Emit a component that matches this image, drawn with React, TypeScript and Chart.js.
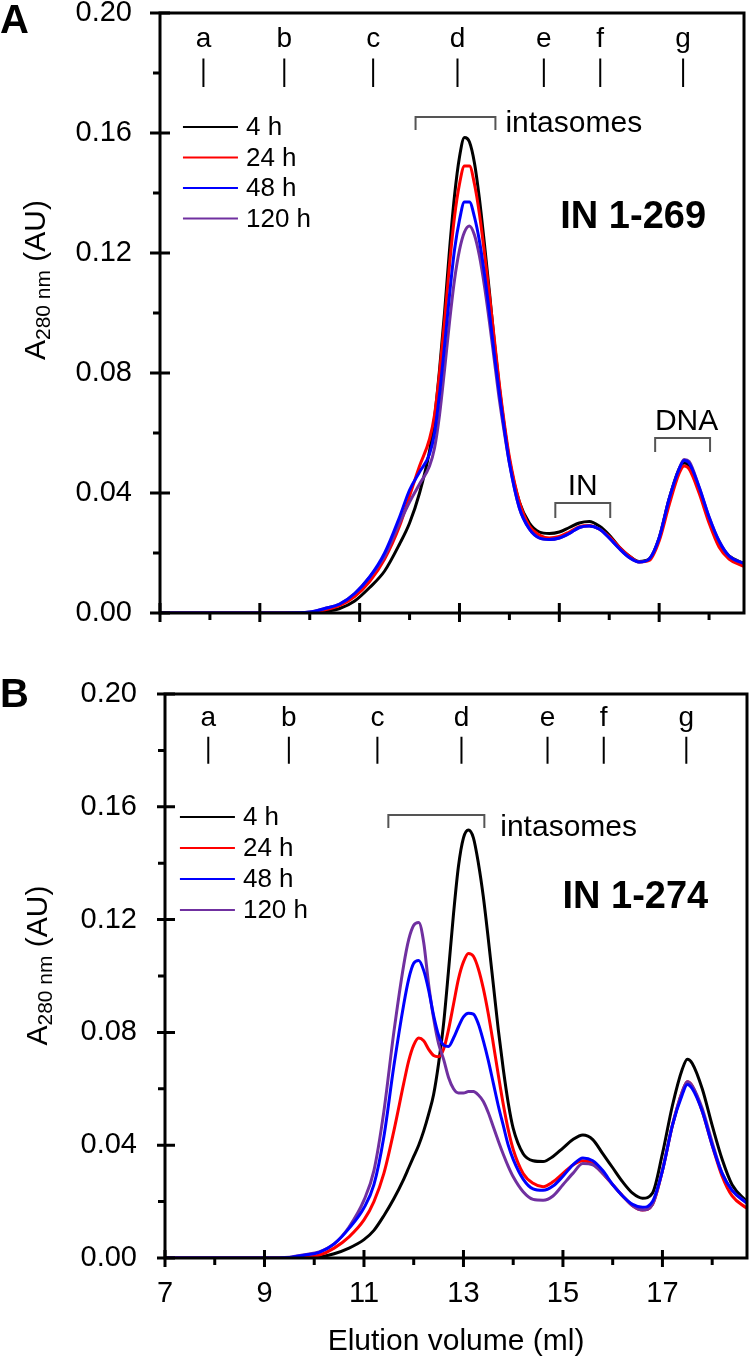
import React, { useEffect, useRef } from 'react';
import { Chart, registerables } from 'chart.js';

Chart.register(...registerables);

const FONT = '"Liberation Sans", Arial, Helvetica, sans-serif';

// ---------------- data ----------------
const SERIES_LABELS = ['4 h', '24 h', '48 h', '120 h'];
const SERIES_COLORS = ['#000000', '#ff0000', '#0000ff', '#7030a0'];
const SERIES_ORDER = [4, 3, 1, 2];

const Y_TICKS = [0, 0.04, 0.08, 0.12, 0.16, 0.2];
const Y_MINOR = [0.02, 0.06, 0.1, 0.14, 0.18];
const X_TICKS = [7, 9, 11, 13, 15, 17];
const X_MINOR = [8, 10, 12, 14, 16, 18];
const X_TITLE = 'Elution volume (ml)';
const Y_TITLE_PARTS = ['A', '280 nm', ' (AU)'];

const MARKER_LABELS = ['a', 'b', 'c', 'd', 'e', 'f', 'g'];
const MARKER_POS = [7.87, 9.49, 11.27, 12.96, 14.69, 15.82, 17.48];

// Panel A (IN 1-269)
const XA = [7, 8, 9, 9.5, 10, 10.3, 10.6, 10.9, 11.2, 11.5, 11.8, 12.0, 12.2, 12.4,
  12.5, 12.6, 12.7, 12.8, 12.9, 13.0, 13.1, 13.2, 13.3, 13.4, 13.5, 13.6, 13.7, 13.8, 13.9,
  14.0, 14.2, 14.4, 14.6, 14.8, 15.0, 15.2, 15.4, 15.6, 15.8, 16.0, 16.2, 16.4, 16.6, 16.8, 17.0, 17.2, 17.4,
  17.5, 17.6, 17.8, 18.0, 18.2, 18.4, 18.7];
const A_4H = [0, 0, 0, 0, 0, 0.0005, 0.0015, 0.004, 0.0085, 0.014, 0.023, 0.030, 0.040, 0.054,
  0.065, 0.081, 0.100, 0.121, 0.139, 0.152, 0.1585, 0.157, 0.150, 0.138, 0.123, 0.107, 0.090, 0.075, 0.062,
  0.051, 0.037, 0.030, 0.027, 0.0265, 0.027, 0.0285, 0.030, 0.0305, 0.029, 0.026, 0.022, 0.019, 0.0172, 0.018, 0.025, 0.038, 0.048,
  0.050, 0.049, 0.041, 0.031, 0.023, 0.019, 0.0165];
const A_24H = [0, 0, 0, 0, 0, 0.001, 0.0025, 0.0055, 0.0105, 0.018, 0.029, 0.039, 0.049, 0.058,
  0.066, 0.080, 0.097, 0.116, 0.132, 0.143, 0.149, 0.149, 0.143, 0.133, 0.120, 0.106, 0.091, 0.076, 0.063,
  0.052, 0.037, 0.029, 0.026, 0.025, 0.0255, 0.027, 0.0288, 0.0292, 0.028, 0.0255, 0.022, 0.019, 0.017, 0.0175, 0.024, 0.036, 0.0465,
  0.049, 0.048, 0.040, 0.030, 0.022, 0.018, 0.0155];
const A_48H = [0, 0, 0, 0, 0.0003, 0.0015, 0.003, 0.0065, 0.012, 0.020, 0.032, 0.041, 0.047, 0.053,
  0.060, 0.073, 0.089, 0.106, 0.121, 0.131, 0.137, 0.137, 0.132, 0.124, 0.113, 0.100, 0.086, 0.073, 0.061,
  0.050, 0.035, 0.028, 0.025, 0.0245, 0.025, 0.0265, 0.0285, 0.029, 0.028, 0.025, 0.0215, 0.0185, 0.017, 0.018, 0.025, 0.038, 0.048,
  0.0508, 0.050, 0.042, 0.032, 0.024, 0.019, 0.0165];
const A_120H = [0, 0, 0, 0, 0.0003, 0.0015, 0.003, 0.0065, 0.012, 0.019, 0.030, 0.037, 0.043, 0.049,
  0.055, 0.066, 0.081, 0.097, 0.111, 0.121, 0.127, 0.129, 0.126, 0.119, 0.109, 0.097, 0.084, 0.071, 0.060,
  0.050, 0.035, 0.028, 0.025, 0.0245, 0.025, 0.0265, 0.0285, 0.029, 0.028, 0.025, 0.0215, 0.0185, 0.017, 0.018, 0.025, 0.038, 0.048,
  0.0512, 0.0505, 0.042, 0.032, 0.024, 0.019, 0.0165];

// Panel B (IN 1-274)
const XB = [7, 8, 9, 9.5, 9.8, 10.1, 10.4, 10.7, 11.0, 11.2, 11.4, 11.6, 11.8,
  11.9, 12.0, 12.1, 12.2, 12.3, 12.4, 12.5, 12.6, 12.7, 12.8, 12.9, 13.0, 13.1, 13.2, 13.3, 13.4, 13.5, 13.6, 13.7, 13.8, 13.9,
  14.0, 14.2, 14.4, 14.6, 14.8, 15.0, 15.2, 15.4, 15.6, 15.8, 16.0, 16.2, 16.4, 16.6, 16.8, 17.0, 17.2, 17.4,
  17.5, 17.6, 17.8, 18.0, 18.2, 18.4, 18.7];
const B_4H = [0, 0, 0, 0, 0, 0.0003, 0.0015, 0.0035, 0.0065, 0.0098, 0.015, 0.021, 0.028,
  0.032, 0.036, 0.040, 0.045, 0.051, 0.058, 0.069, 0.083, 0.102, 0.122, 0.139, 0.149, 0.1518, 0.149, 0.140, 0.128, 0.113, 0.097, 0.081, 0.067, 0.055,
  0.046, 0.037, 0.0345, 0.0342, 0.036, 0.039, 0.042, 0.0436, 0.042, 0.037, 0.032, 0.027, 0.023, 0.0212, 0.023, 0.037, 0.054, 0.067,
  0.0705, 0.069, 0.060, 0.047, 0.035, 0.026, 0.020];
const B_24H = [0, 0, 0, 0, 0.0002, 0.001, 0.0035, 0.0075, 0.0135, 0.020, 0.030, 0.045, 0.062,
  0.070, 0.0755, 0.078, 0.077, 0.074, 0.0718, 0.0714, 0.074, 0.081, 0.090, 0.099, 0.105, 0.108, 0.107, 0.1025, 0.0955, 0.0865, 0.076, 0.065, 0.0545, 0.0455,
  0.0385, 0.030, 0.0265, 0.0253, 0.027, 0.030, 0.033, 0.0345, 0.0335, 0.030, 0.026, 0.022, 0.0185, 0.017, 0.019, 0.031, 0.047, 0.059,
  0.0625, 0.061, 0.052, 0.040, 0.029, 0.022, 0.0176];
const B_48H = [0, 0, 0, 0.0002, 0.001, 0.002, 0.005, 0.0105, 0.0178, 0.026, 0.043, 0.068, 0.090,
  0.099, 0.1045, 0.1055, 0.102, 0.095, 0.086, 0.079, 0.0755, 0.075, 0.078, 0.082, 0.0855, 0.0868, 0.0865, 0.083, 0.077, 0.070, 0.062, 0.054, 0.047, 0.040,
  0.035, 0.028, 0.0245, 0.024, 0.0255, 0.029, 0.033, 0.0355, 0.0345, 0.031, 0.026, 0.022, 0.019, 0.018, 0.020, 0.031, 0.047, 0.058,
  0.0615, 0.060, 0.052, 0.040, 0.030, 0.024, 0.0194];
const B_120H = [0, 0, 0, 0.0003, 0.0012, 0.0022, 0.005, 0.011, 0.0205, 0.031, 0.052, 0.080, 0.104,
  0.113, 0.118, 0.119, 0.112, 0.097, 0.085, 0.076, 0.0705, 0.064, 0.060, 0.0585, 0.0585, 0.059, 0.059, 0.0578, 0.0555, 0.0515, 0.0465, 0.0415, 0.0368, 0.0325,
  0.0288, 0.0235, 0.0208, 0.0205, 0.022, 0.026, 0.030, 0.0335, 0.033, 0.030, 0.026, 0.022, 0.0185, 0.017, 0.019, 0.031, 0.047, 0.059,
  0.0625, 0.061, 0.053, 0.041, 0.030, 0.024, 0.0195];

// ---------------- layout / annotation specs ----------------
type Bracket = [number, number, number, number];
type Label = { text: string; x: number; y: number; align: CanvasTextAlign };
type PanelSpec = {
  key: string; top: number; height: number; padTop: number; padRight: number;
  yAxisWidth: number; xAxisHeight: number; showXLabels: boolean; xTickPad: number;
  x: number[]; series: number[][];
  yTickOut: number; yTickIn: number; yMinorOut: number; xTickIn: number; xTickOut: number; xMinorOut: number;
  yTitle: { x: number; y: number }; letter: { text: string; x: number; y: number };
  name: { text: string; x: number; y: number };
  legend: { x: number; y: number; dy: number };
  brackets: Bracket[]; labels: Label[];
};

const PANELS: PanelSpec[] = [
  {
    key: 'A', top: 0, height: 650, padTop: 13, padRight: 6, yAxisWidth: 160, xAxisHeight: 37,
    showXLabels: false, xTickPad: 19, x: XA, series: [A_4H, A_24H, A_48H, A_120H],
    yTickOut: 10, yTickIn: 10, yMinorOut: 7, xTickIn: 10, xTickOut: 9, xMinorOut: 7,
    yTitle: { x: 45, y: 280 }, letter: { text: 'A', x: 0, y: 33 },
    name: { text: 'IN 1-269', x: 15.02, y: 0.1282 },
    legend: { x: 7.46, y: 0.162, dy: 30.5 },
    brackets: [[12.12, 13.72, 0.1653, 0.161], [14.92, 16.02, 0.0367, 0.0317], [16.92, 18.02, 0.0583, 0.0537]],
    labels: [
      { text: 'intasomes', x: 13.92, y: 0.1604, align: 'left' },
      { text: 'IN', x: 15.47, y: 0.0393, align: 'center' },
      { text: 'DNA', x: 17.55, y: 0.061, align: 'center' },
    ],
  },
  {
    key: 'B', top: 660, height: 699, padTop: 34, padRight: 3, yAxisWidth: 165, xAxisHeight: 101,
    showXLabels: true, xTickPad: 19, x: XB, series: [B_4H, B_24H, B_48H, B_120H],
    yTickOut: 8, yTickIn: 10, yMinorOut: 7, xTickIn: 8, xTickOut: 9, xMinorOut: 7,
    yTitle: { x: 47, y: 305.5 }, letter: { text: 'B', x: 0, y: 46.7 },
    name: { text: 'IN 1-274', x: 14.99, y: 0.124 },
    legend: { x: 7.30, y: 0.1564, dy: 31 },
    brackets: [[11.49, 13.42, 0.1571, 0.1525]],
    labels: [{ text: 'intasomes', x: 13.74, y: 0.1498, align: 'left' }],
  },
];

const MARKER_TEXT_Y = 0.1888;
const MARKER_TICK_TOP = 0.1848;
const MARKER_TICK_BOTTOM = 0.1753;

function makeDecor(spec: PanelSpec) {
  return {
    id: 'decor' + spec.key,
    afterDatasetsDraw(chart: any) {
      const { ctx, chartArea: ca, scales } = chart;
      const X = (v: number) => scales.x.getPixelForValue(v);
      const Y = (v: number) => scales.y.getPixelForValue(v);
      ctx.save();
      ctx.fillStyle = '#000';
      ctx.strokeStyle = '#000';

      // frame
      ctx.lineWidth = 3;
      ctx.lineJoin = 'miter';
      ctx.strokeRect(ca.left, ca.top, ca.right - ca.left, ca.bottom - ca.top);

      // tick marks
      ctx.beginPath();
      Y_TICKS.forEach((v) => { const y = Y(v); ctx.moveTo(ca.left - spec.yTickOut, y); ctx.lineTo(ca.left + spec.yTickIn, y); });
      Y_MINOR.forEach((v) => { const y = Y(v); ctx.moveTo(ca.left - spec.yMinorOut, y); ctx.lineTo(ca.left, y); });
      X_TICKS.forEach((v) => { const x = X(v); ctx.moveTo(x, ca.bottom - spec.xTickIn); ctx.lineTo(x, ca.bottom + spec.xTickOut); });
      X_MINOR.forEach((v) => { const x = X(v); ctx.moveTo(x, ca.bottom); ctx.lineTo(x, ca.bottom + spec.xMinorOut); });
      ctx.stroke();

      // marker letters a..g
      ctx.font = `28px ${FONT}`;
      ctx.textAlign = 'center';
      ctx.textBaseline = 'alphabetic';
      ctx.lineWidth = 2;
      ctx.beginPath();
      MARKER_POS.forEach((v, i) => {
        const x = X(v);
        ctx.fillText(MARKER_LABELS[i], x, Y(MARKER_TEXT_Y));
        ctx.moveTo(x, Y(MARKER_TICK_TOP));
        ctx.lineTo(x, Y(MARKER_TICK_BOTTOM));
      });
      ctx.stroke();

      // brackets
      ctx.strokeStyle = '#555';
      ctx.lineWidth = 2;
      ctx.beginPath();
      spec.brackets.forEach(([x1, x2, yl, yb]) => {
        ctx.moveTo(X(x1), Y(yb));
        ctx.lineTo(X(x1), Y(yl));
        ctx.lineTo(X(x2), Y(yl));
        ctx.lineTo(X(x2), Y(yb));
      });
      ctx.stroke();

      // labels
      ctx.font = `30px ${FONT}`;
      spec.labels.forEach((l) => {
        ctx.textAlign = l.align;
        ctx.fillText(l.text, X(l.x), Y(l.y));
      });

      // construct name
      ctx.font = `bold 38px ${FONT}`;
      ctx.textAlign = 'left';
      ctx.fillText(spec.name.text, X(spec.name.x), Y(spec.name.y));

      // legend
      const lx = X(spec.legend.x);
      const ly = Y(spec.legend.y);
      ctx.font = `26px ${FONT}`;
      ctx.textBaseline = 'middle';
      chart.data.datasets.forEach((ds: any, i: number) => {
        const y = ly + i * spec.legend.dy;
        ctx.strokeStyle = ds.borderColor;
        ctx.lineWidth = 2;
        ctx.beginPath();
        ctx.moveTo(lx, y);
        ctx.lineTo(lx + 55, y);
        ctx.stroke();
        ctx.fillText(ds.label, lx + 63, y + 1);
      });

      // y axis title with subscript
      ctx.save();
      ctx.translate(spec.yTitle.x, spec.yTitle.y);
      ctx.rotate(-Math.PI / 2);
      const mainF = `30px ${FONT}`;
      const subF = `21px ${FONT}`;
      ctx.font = mainF;
      const w0 = ctx.measureText(Y_TITLE_PARTS[0]).width;
      const w2 = ctx.measureText(Y_TITLE_PARTS[2]).width;
      ctx.font = subF;
      const w1 = ctx.measureText(Y_TITLE_PARTS[1]).width;
      let tx = -(w0 + w1 + w2) / 2;
      ctx.textAlign = 'left';
      ctx.textBaseline = 'alphabetic';
      ctx.font = mainF; ctx.fillText(Y_TITLE_PARTS[0], tx, 0); tx += w0;
      ctx.font = subF; ctx.fillText(Y_TITLE_PARTS[1], tx, 5); tx += w1;
      ctx.font = mainF; ctx.fillText(Y_TITLE_PARTS[2], tx, 0);
      ctx.restore();

      // panel letter
      ctx.font = `bold 40px ${FONT}`;
      ctx.textAlign = 'left';
      ctx.textBaseline = 'alphabetic';
      ctx.fillText(spec.letter.text, spec.letter.x, spec.letter.y);

      ctx.restore();
    },
  };
}

function buildConfig(spec: PanelSpec): any {
  const tickFont = { family: FONT, size: 29 };
  return {
    type: 'line',
    data: {
      datasets: spec.series.map((vals, i) => ({
        label: SERIES_LABELS[i],
        data: spec.x.map((x, j) => ({ x, y: vals[j] })),
        borderColor: SERIES_COLORS[i],
        backgroundColor: SERIES_COLORS[i],
        borderWidth: 3,
        pointRadius: 0,
        cubicInterpolationMode: 'monotone',
        fill: false,
        order: SERIES_ORDER[i],
      })),
    },
    options: {
      responsive: false,
      maintainAspectRatio: false,
      animation: false,
      events: [],
      layout: { padding: { left: 0, top: spec.padTop, right: spec.padRight, bottom: 0 } },
      plugins: { legend: { display: false }, tooltip: { enabled: false }, title: { display: false } },
      scales: {
        x: {
          type: 'linear',
          min: 7,
          max: 18.7,
          afterBuildTicks: (s: any) => { s.ticks = X_TICKS.map((v) => ({ value: v })); },
          afterFit: (s: any) => { s.height = spec.xAxisHeight; s.paddingLeft = 0; s.paddingRight = 0; },
          grid: { display: false, drawTicks: false },
          border: { display: false },
          ticks: {
            display: spec.showXLabels, autoSkip: false, maxRotation: 0, minRotation: 0,
            padding: spec.xTickPad, color: '#000', font: tickFont,
            callback: (v: any) => String(v),
          },
          title: {
            display: spec.showXLabels, text: X_TITLE, color: '#000',
            font: { family: FONT, size: 30, lineHeight: 1.13 }, padding: { top: 0, bottom: 0 },
          },
        },
        y: {
          type: 'linear',
          min: 0,
          max: 0.2,
          afterBuildTicks: (s: any) => { s.ticks = Y_TICKS.map((v) => ({ value: v })); },
          afterFit: (s: any) => { s.width = spec.yAxisWidth; s.paddingTop = 0; s.paddingBottom = 0; },
          grid: { display: false, drawTicks: false },
          border: { display: false },
          ticks: {
            padding: 28, color: '#000', font: tickFont,
            callback: (v: any) => Number(v).toFixed(2),
          },
        },
      },
    },
    plugins: [makeDecor(spec)],
  };
}

function Panel({ spec }: { spec: PanelSpec }) {
  const ref = useRef<HTMLCanvasElement>(null);
  useEffect(() => {
    if (!ref.current) return;
    const chart = new Chart(ref.current, buildConfig(spec));
    return () => chart.destroy();
  }, [spec]);
  return (
    <canvas
      ref={ref}
      width={750}
      height={spec.height}
      style={{ position: 'absolute', left: 0, top: spec.top, width: 750, height: spec.height, display: 'block' }}
    />
  );
}

export default function App() {
  return (
    <div style={{ position: 'absolute', left: 0, top: 0, width: 750, height: 1359, background: '#fff', overflow: 'hidden' }}>
      {PANELS.map((p) => (
        <Panel key={p.key} spec={p} />
      ))}
    </div>
  );
}
